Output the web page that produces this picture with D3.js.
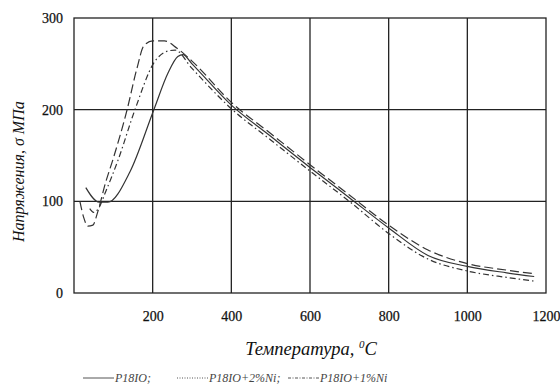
<!DOCTYPE html>
<meta charset="utf-8">
<head>
  <title>Напряжения vs температура</title>
</head>

<style>
body { margin: 0; background: #fff; }
.grid line, .frame {
  stroke: #222;
  stroke-width: 1.3;
  fill: none;
}
.tick text {
  font-family: "Liberation Serif", "Times New Roman", serif;
  font-size: 14px;
  fill: #111;
  stroke: #111;
  stroke-width: 0.25;
}
.title {
  font-family: "Liberation Serif", "Times New Roman", serif;
  font-style: italic;
  font-size: 18.5px;
  fill: #111;
}
.legend text {
  font-family: "Liberation Serif", "Times New Roman", serif;
  font-style: italic;
  font-size: 12px;
  fill: #444;
}
.curve {
  fill: none;
  stroke: #333;
  stroke-width: 1.2;
}
</style>

<body>
  <svg width="560" height="388"></svg>

  <script src="https://cdnjs.cloudflare.com/ajax/libs/d3/7.8.5/d3.min.js"></script>
  <script>

// values (temperature, °C / stress, MPa)
var xTicks = [200, 400, 600, 800, 1000, 1200];
var yTicks = [0, 100, 200, 300];

var tempBase = [30, 64, 86, 142, 203, 239, 264, 277, 300, 400, 500, 600, 700, 800, 900, 1000, 1100, 1170];
var stressBase = [115, 99, 99, 132, 200, 240, 258, 260, 250, 205, 171, 137, 104, 71, 41, 29, 22, 18];

var tempNi2 = [15, 25, 35, 48, 60, 80, 100, 135, 160, 178, 200, 230, 262, 300, 400, 500, 600, 700, 800, 900, 1000, 1100, 1170];
var stressNi2 = [100, 82, 73, 74, 88, 120, 147, 200, 245, 270, 275, 275, 267, 253, 208, 174, 140, 107, 74, 47, 32, 25, 21];

var tempNi1 = [40, 50, 62, 80, 112, 155, 203, 239, 257, 300, 400, 500, 600, 700, 800, 900, 1000, 1100, 1170];
var stressNi1 = [92, 88, 92, 110, 145, 200, 251, 264, 265, 245, 201, 167, 133, 100, 65, 37, 24, 17, 13];

var seriesNames = ['P18IO;', 'P18IO+2%Ni;', 'P18IO+1%Ni'];

var series = [
  {name: seriesNames[0], t: tempBase, s: stressBase, dash: null, legendDash: null},
  {name: seriesNames[1], t: tempNi2, s: stressNi2, dash: '9,4', legendDash: '1,1.5'},
  {name: seriesNames[2], t: tempNi1, s: stressNi1, dash: '6,3,1.5,3', legendDash: '3,1.5,1,1.5'}
];

var svg = d3.select('svg');
var plotL = 74, plotR = 546, plotT = 18, plotB = 293;

var x = d3.scaleLinear().domain([0, 1200]).range([plotL, plotR]);
var y = d3.scaleLinear().domain([0, 300]).range([plotB, plotT]);

// grid
var grid = svg.append('g').attr('class', 'grid');
grid.selectAll('.v').data(xTicks.slice(0, -1)).enter().append('line')
  .attr('x1', x).attr('x2', x).attr('y1', plotT).attr('y2', plotB);
grid.selectAll('.h').data(yTicks.slice(1, -1)).enter().append('line')
  .attr('x1', plotL).attr('x2', plotR).attr('y1', y).attr('y2', y);
svg.append('rect').attr('class', 'frame')
  .attr('x', plotL).attr('y', plotT).attr('width', plotR - plotL).attr('height', plotB - plotT);

// axes (labels only)
svg.append('g')
  .attr('transform', 'translate(0,' + (plotB + 18) + ')')
  .call(d3.axisBottom(x).tickValues(xTicks).tickFormat(d3.format('d')).tickSize(0).tickPadding(0));
svg.append('g')
  .attr('transform', 'translate(' + (plotL - 11) + ',0)')
  .call(d3.axisLeft(y).tickValues(yTicks).tickFormat(d3.format('d')).tickSize(0).tickPadding(0));
svg.selectAll('.domain').remove();

// curves
var line = d3.line()
  .x(function(d) { return x(d[0]); })
  .y(function(d) { return y(d[1]); })
  .curve(d3.curveMonotoneX);

series.forEach(function(sr) {
  svg.append('path')
    .attr('class', 'curve')
    .attr('d', line(d3.zip(sr.t, sr.s)))
    .attr('stroke-dasharray', sr.dash);
});

// titles
svg.append('text').attr('class', 'title')
  .attr('transform', 'translate(24,242) rotate(-90)')
  .attr('font-size', 16)
  .style('font-size', '16px')
  .text('Напряжения, σ МПа');

var xt = svg.append('text').attr('class', 'title')
  .attr('x', 311).attr('y', 355)
  .attr('text-anchor', 'middle');
xt.append('tspan').text('Температура, ');
xt.append('tspan').attr('font-size', 11).attr('dy', -7).text('0');
xt.append('tspan').attr('dy', 7).text('C');

// legend
var legendPos = [83, 177, 288];
var legend = svg.append('g').attr('class', 'legend');
series.forEach(function(sr, i) {
  legend.append('line')
    .attr('x1', legendPos[i]).attr('x2', legendPos[i] + 31)
    .attr('y1', 378).attr('y2', 378)
    .attr('stroke', '#555').attr('stroke-width', 1)
    .attr('stroke-dasharray', sr.legendDash);
  legend.append('text')
    .attr('x', legendPos[i] + 32).attr('y', 382)
    .text(sr.name);
});

  </script>
</body>
</html>
